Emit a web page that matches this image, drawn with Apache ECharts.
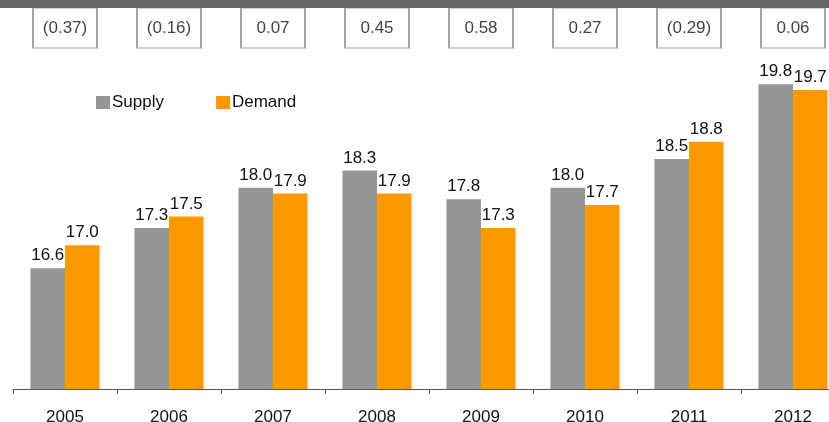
<!DOCTYPE html>
<html>
<head>
<meta charset="utf-8">
<script src="https://cdn.jsdelivr.net/npm/echarts@6/dist/echarts.min.js"></script>
<style>
  html, body { margin: 0; padding: 0; background: #fff; overflow: hidden; }
  /* 图表右侧在原图中被裁掉，所以画布比窗口宽 */
  #main { width: 845px; height: 422px; }
</style>
</head>
<body>
<div id="main"></div>
<script>
  // 数据
  var years = ['2005', '2006', '2007', '2008', '2009', '2010', '2011', '2012'];
  var supply = [16.6, 17.3, 18.0, 18.3, 17.8, 18.0, 18.5, 19.8];
  var demand = [17.0, 17.5, 17.9, 17.9, 17.3, 17.7, 18.8, 19.7];
  var balance = [-0.37, -0.16, 0.07, 0.45, 0.58, 0.27, -0.29, 0.06];

  var chart = echarts.init(document.getElementById('main'));
  var font = 'Liberation Sans, Arial, sans-serif';
  var fs = 17;

  function fmtBalance(v) {
    // 负数用括号表示
    return v < 0 ? '(' + Math.abs(v).toFixed(2) + ')' : v.toFixed(2);
  }

  var option = {
    animation: false,
    textStyle: { fontFamily: font },
    graphic: [{
      type: 'rect',
      left: 0, top: 0, z: 100,
      shape: { width: 845, height: 8 },
      style: { fill: '#666666' }
    }],
    legend: {
      left: 91,
      top: 89,
      itemWidth: 14,
      itemHeight: 13,
      itemGap: 52,
      icon: 'rect',
      textStyle: { fontSize: fs, color: '#111', padding: [0, 0, 0, -3] },
      data: ['Supply', 'Demand']
    },
    grid: [
      { left: 13, right: 0, top: 44, bottom: 33, outerBoundsMode: 'none' },
      { left: 13, right: 0, top: 8, height: 40, outerBoundsMode: 'none' }
    ],
    xAxis: [{
      type: 'category',
      gridIndex: 0,
      data: years,
      axisLine: { lineStyle: { color: '#555', width: 1 } },
      axisTick: { show: true, length: 5, lineStyle: { color: '#555' } },
      axisLabel: { fontSize: fs, color: '#111', margin: 20 }
    }, {
      type: 'category',
      gridIndex: 1,
      data: years,
      show: false
    }],
    yAxis: [{
      type: 'value',
      gridIndex: 0,
      min: 14.5,
      max: 20.5,
      show: false,
      splitLine: { show: false }
    }, {
      type: 'value',
      gridIndex: 1,
      min: 0,
      max: 1,
      show: false
    }],
    series: [{
      name: 'Supply',
      type: 'bar',
      data: supply,
      barGap: '0%',
      barCategoryGap: '33.6%',
      itemStyle: { color: '#969696' },
      label: {
        show: true, position: 'top', distance: 4,
        fontSize: fs, color: '#111',
        formatter: function (p) { return p.value.toFixed(1); }
      }
    }, {
      name: 'Demand',
      type: 'bar',
      data: demand,
      itemStyle: { color: '#ff9900' },
      label: {
        show: true, position: 'top', distance: 4,
        fontSize: fs, color: '#111',
        formatter: function (p) { return p.value.toFixed(1); }
      }
    }, {
      // 顶部差额方框
      name: 'Balance',
      type: 'scatter',
      xAxisIndex: 1,
      yAxisIndex: 1,
      symbol: 'rect',
      symbolSize: [64, 40],
      data: balance.map(function (v, i) { return [years[i], 0.5, v]; }),
      itemStyle: { color: '#fff', borderColor: '#8a8a8a', borderWidth: 1.5 },
      label: {
        show: true, position: 'inside',
        fontSize: fs, color: '#111',
        formatter: function (p) { return fmtBalance(p.value[2]); }
      }
    }]
  };

  chart.setOption(option);
</script>
</body>
</html>
